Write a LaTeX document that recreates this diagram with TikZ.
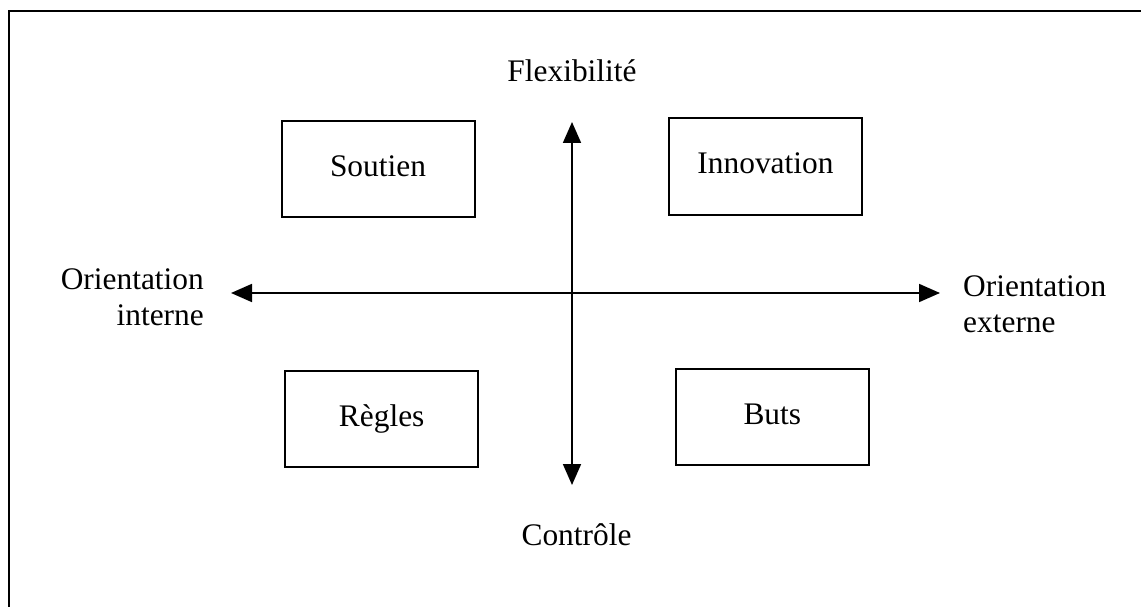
\documentclass[tikz,border=0pt]{standalone}
\usepackage{fontspec}
\setmainfont{Liberation Serif}
\usetikzlibrary{arrows.meta}
\begin{document}
\begin{tikzpicture}[x=1pt,y=-1pt,
  lbl/.style={font=\fontsize{31.4}{36}\selectfont, inner sep=0pt},
  quad/.style={draw, line width=2pt, minimum width=193pt, minimum height=96pt,
    inner sep=0pt, font=\fontsize{31.4}{36}\selectfont, text height=22pt, text depth=7pt},
  axis/.style={line width=1.8pt, {Triangle[length=21pt,width=18pt]}-{Triangle[length=21pt,width=18pt]}}]
\clip (0,0) rectangle (1141,607);
\fill[white] (0,0) rectangle (1141,607);
\draw[line width=2.3pt] (9,640) -- (9,11) -- (1170,11);
% boxes
\node[quad] (soutien) at (378,168.7) {Soutien};
\node[quad] (innov) at (765.5,166.5) {Innovation};
\node[quad] (regles) at (381.7,418.7) {Règles};
\node[quad] (buts) at (772.3,416.7) {Buts};
% axis labels
\node[lbl, anchor=base] (flex) at (572,82) {Flexibilité};
\node[lbl, anchor=base] (ctrl) at (576.5,545) {Contrôle};
\node[lbl, anchor=base east, align=right] (oint) at (204,325) {Orientation\\interne};
\node[lbl, anchor=base west, align=left] (oext) at (963,332) {Orientation\\externe};
% axes
\coordinate (ytop) at (572,122);
\coordinate (ybot) at (572,485);
\coordinate (xleft) at (231,293);
\coordinate (xright) at (940,293);
\draw[axis] (ytop) -- (ybot);
\draw[axis] (xleft) -- (xright);
\end{tikzpicture}
\end{document}
